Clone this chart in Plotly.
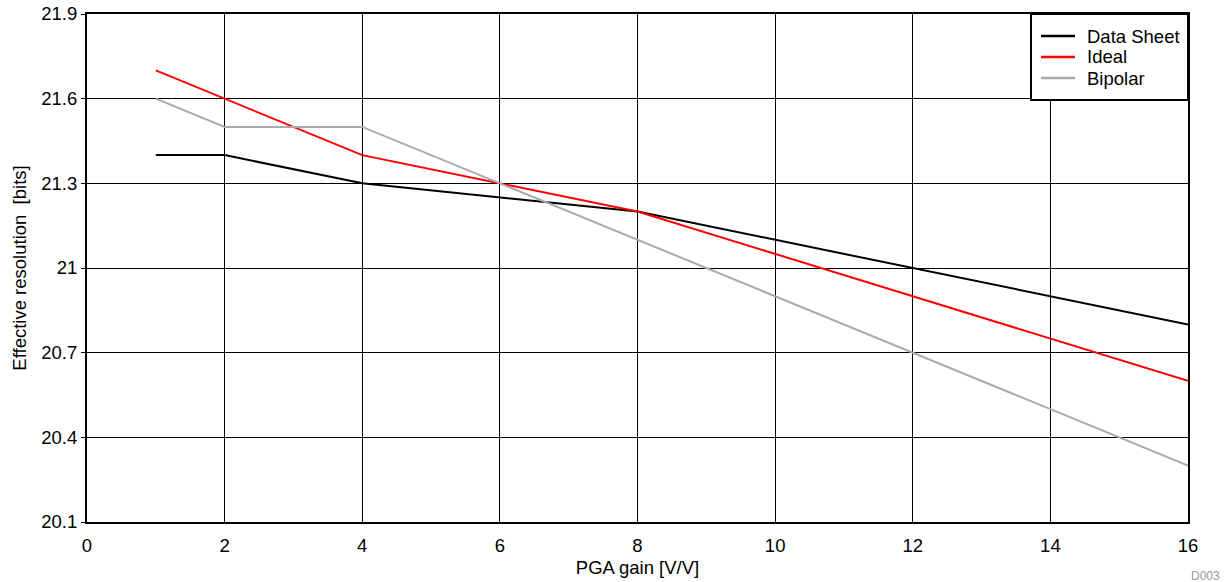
import plotly.graph_objects as go

gain = [1, 2, 4, 8, 16]
data_sheet = [21.4, 21.4, 21.3, 21.2, 20.8]
ideal = [21.7, 21.6, 21.4, 21.2, 20.6]
bipolar = [21.6, 21.5, 21.5, 21.1, 20.3]

series_names = ["Data Sheet", "Ideal", "Bipolar"]
series_colors = ["#000000", "#ff0000", "#aaaaaa"]
series_values = [data_sheet, ideal, bipolar]

x_ticks = [0, 2, 4, 6, 8, 10, 12, 14, 16]
y_ticks = [20.1, 20.4, 20.7, 21.0, 21.3, 21.6, 21.9]
y_labels = ["20.1", "20.4", "20.7", "21", "21.3", "21.6", "21.9"]

fig = go.Figure()
for name, color, vals in zip(series_names, series_colors, series_values):
    fig.add_trace(go.Scatter(x=gain, y=vals, mode="lines", name=name,
                             line=dict(color=color, width=2), showlegend=False))

W, H = 1225, 582
ML, MR, MT, MB = 87, 37, 14, 60
PW, PH = W - ML - MR, H - MT - MB


def px_x(px):
    return (px - ML) / PW


def px_y(py):
    return (H - MB - py) / PH


FS = 18.5
font = "Liberation Sans, Arial, sans-serif"
fig.update_layout(
    width=W, height=H,
    margin=dict(l=ML, r=MR, t=MT, b=MB, autoexpand=False),
    paper_bgcolor="white", plot_bgcolor="white",
    font=dict(family=font, size=FS, color="black"),
    showlegend=False,
    xaxis=dict(range=[0, 16], tickvals=x_ticks, showgrid=True, gridcolor="black",
               gridwidth=1, showline=True, linecolor="black", linewidth=2, mirror=True,
               ticks="", zeroline=False, ticklabelstandoff=6,
               title=dict(text="PGA gain [V/V]", font=dict(size=FS), standoff=6)),
    yaxis=dict(range=[20.1, 21.9], tickvals=y_ticks, ticktext=y_labels, showgrid=True,
               gridcolor="black", gridwidth=1, showline=True, linecolor="black",
               linewidth=2, mirror=True, ticks="outside", ticklen=4, tickcolor="black",
               zeroline=False,
               title=dict(text="Effective resolution\u00a0\u00a0[bits]", font=dict(size=FS),
                          standoff=10)),
)

# legend box (drawn manually to match the reference layout)
fig.add_shape(type="rect", xref="paper", yref="paper",
              x0=px_x(1031), x1=px_x(1188), y0=px_y(100), y1=px_y(14),
              line=dict(color="black", width=2), fillcolor="white", layer="above")
for i, (name, color) in enumerate(zip(series_names, series_colors)):
    yy = px_y(36 + 21 * i)
    fig.add_shape(type="line", xref="paper", yref="paper",
                  x0=px_x(1041), x1=px_x(1075), y0=yy, y1=yy,
                  line=dict(color=color, width=2.5), layer="above")
    fig.add_annotation(text=name, xref="paper", yref="paper", x=px_x(1085), y=yy,
                       xanchor="left", yanchor="middle", showarrow=False,
                       font=dict(size=FS, color="black"))

fig.add_annotation(text="D003", xref="paper", yref="paper", x=1.031, y=-0.106,
                   xanchor="right", yanchor="middle", showarrow=False,
                   font=dict(size=12, color="#999999"))
fig.write_html("out.html", config={"displayModeBar": False},
               post_script="document.body.style.margin='0';document.body.style.overflow='hidden';")
